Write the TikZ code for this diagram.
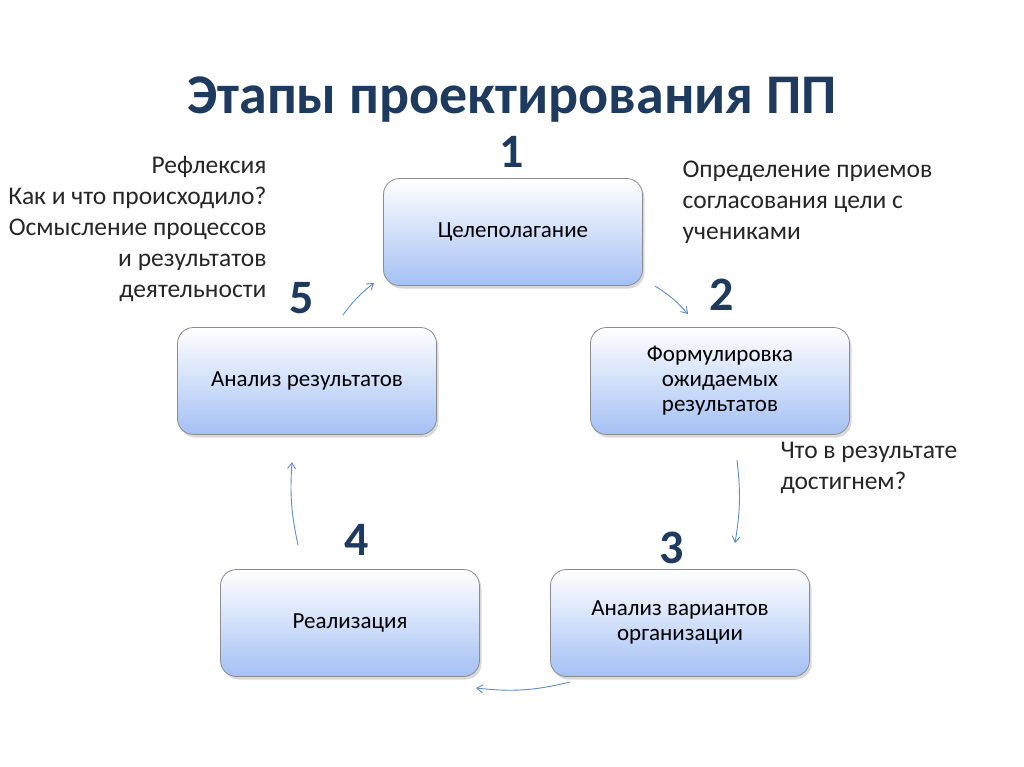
\documentclass[tikz,border=0pt]{standalone}
\usepackage{fontspec}
\setmainfont{Carlito}
\usetikzlibrary{shadows,arrows.meta}
\definecolor{navy}{HTML}{1F3A5F}
\definecolor{arr}{HTML}{5B8BD0}
\definecolor{bbot}{HTML}{A4C0F4}
\begin{document}
\begin{tikzpicture}[x=1pt,y=-1pt,
  stage/.style={draw=black!45,line width=0.8pt,rounded corners=16pt,minimum width=259pt,minimum height=107pt,
    top color=white,bottom color=bbot,align=center,font=\fontsize{23}{25}\selectfont,
    drop shadow={shadow xshift=2pt,shadow yshift=-3pt,opacity=0.3}},
  num/.style={font=\fontsize{48}{50}\selectfont\bfseries,text=navy},
  note/.style={font=\fontsize{25.5}{31}\selectfont,text=black!85},
  cyc/.style={draw=arr,line width=0.9pt,-{Straight Barb[length=6pt,width=8pt]}}]
\useasboundingbox (0,0) rectangle (1024,767);
\node[font=\fontsize{56}{60}\selectfont\bfseries,text=navy] (title) at (512,100) {Этапы проектирования ПП};
\node[stage] (s1) at (513,232) {Целеполагание};
\node[stage] (s2) at (720,381) {Формулировка\\ожидаемых\\результатов};
\node[stage] (s3) at (680,623) {Анализ вариантов\\организации};
\node[stage] (s4) at (350,623) {Реализация};
\node[stage] (s5) at (307,381) {Анализ результатов};
\node[num] (n1) at (512,152) {1};
\node[num] (n2) at (722,295) {2};
\node[num] (n3) at (672,548) {3};
\node[num] (n4) at (357,540) {4};
\node[num] (n5) at (302,298) {5};
\node[note,align=right,anchor=north east] (tl) at (270,153) {Рефлексия\\Как и что происходило?\\Осмысление процессов\\и результатов\\деятельности};
\node[note,align=left,anchor=north west] (tr) at (679,157) {Определение приемов\\согласования цели с\\учениками};
\node[note,align=left,anchor=north west] (br) at (777,439) {Что в результате\\достигнем?};
\coordinate (a1) at (655,286); \coordinate (b1) at (688,314);
\coordinate (a2) at (737,460); \coordinate (b2) at (735,543);
\coordinate (a3) at (570,682); \coordinate (b3) at (476,688);
\coordinate (a4) at (298,545); \coordinate (b4) at (292,462);
\coordinate (a5) at (343,315); \coordinate (b5) at (374,283);
\draw[cyc] (a1) to[bend left=8] (b1);
\draw[cyc] (a2) to[bend left=8] (b2);
\draw[cyc] (a3) to[bend left=10] (b3);
\draw[cyc] (a4) to[bend left=8] (b4);
\draw[cyc] (a5) to[bend left=8] (b5);
\end{tikzpicture}
\end{document}
